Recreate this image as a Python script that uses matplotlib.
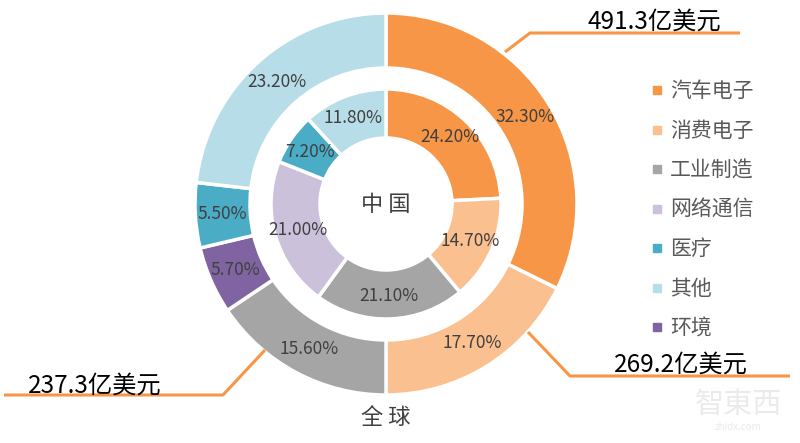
import matplotlib.pyplot as plt
from matplotlib.lines import Line2D
import numpy as np

plt.rcParams['font.family'] = ['Noto Sans CJK SC', 'DejaVu Sans']

# 图例顺序
legend_names = ['汽车电子', '消费电子', '工业制造', '网络通信', '医疗', '其他', '环境']
legend_colors = ['#F79646', '#FAC090', '#A5A5A5', '#CCC1DA', '#4BACC6', '#B7DEE8', '#8064A2']

# 外环: 全球 (顺时针)
global_names = ['汽车电子', '消费电子', '工业制造', '环境', '医疗', '其他']
global_share = [32.3, 17.7, 15.6, 5.7, 5.5, 23.2]

# 内环: 中国 (顺时针)
china_names = ['汽车电子', '消费电子', '工业制造', '网络通信', '医疗', '其他']
china_share = [24.2, 14.7, 21.1, 21.0, 7.2, 11.8]

# 市场规模标注
totals = ['491.3亿美元', '269.2亿美元', '237.3亿美元']

cmap = dict(zip(legend_names, legend_colors))
W, H = 800, 443
fig = plt.figure(figsize=(8, 4.43), dpi=100)
ax = fig.add_axes([0, 0, 1, 1])
cx, cy = 386, H - 204

def ring(names, share, radius, width, label_r):
    wedges, _ = ax.pie(share, colors=[cmap[n] for n in names], radius=radius,
                       center=(cx, cy), startangle=90, counterclock=False,
                       wedgeprops=dict(width=width, edgecolor='white', linewidth=2.5))
    for w, v in zip(wedges, share):
        a = np.deg2rad((w.theta1 + w.theta2) / 2)
        ax.text(cx + label_r * np.cos(a), cy + label_r * np.sin(a), f'{v:.2f}%',
                ha='center', va='center', fontsize=12.5, color='#404040')

ring(global_names, global_share, 191, 55, 164)
ring(china_names, china_share, 115, 49, 92)

ax.set_xlim(0, W)
ax.set_ylim(0, H)
ax.set_aspect('equal')
ax.axis('off')

ax.text(cx, cy, '中 国', ha='center', va='center', fontsize=16, color='#404040')
ax.text(cx, H - 417, '全 球', ha='center', va='center', fontsize=16, color='#404040')

# 引线
lc = '#F79646'
paths = [[(505, 52), (530, 33), (740, 33)],
         [(528, 332), (570, 376), (790, 376)],
         [(265, 350), (223, 395), (4, 395)]]
text_pos = [(654, 22), (681, 365), (95, 386)]
for p, t, (tx, ty) in zip(paths, totals, text_pos):
    xs = [q[0] for q in p]
    ys = [H - q[1] for q in p]
    ax.plot(xs, ys, color=lc, lw=2.2, solid_capstyle='butt')
    ax.text(tx, H - ty, t, ha='center', va='center', fontsize=17.5, color='black')

# 图例
handles = [Line2D([], [], marker='s', ls='', markersize=6, color=c) for c in legend_colors]
leg = ax.legend(handles, legend_names, loc='upper left', bbox_to_anchor=(642 / W, 1 - 72 / H),
                frameon=False, fontsize=15, labelspacing=0.84, handlelength=0.6,
                handletextpad=0.35, borderaxespad=0)
for t in leg.get_texts():
    t.set_color('#595959')

# 水印
ax.text(738, H - 405, '智東西', ha='center', va='center', fontsize=21, color='#EBEBEB')
ax.text(738, H - 427, 'zhidx.com', ha='center', va='center', fontsize=7, color='#EBEBEB')

fig.savefig('out.png', dpi=100)
